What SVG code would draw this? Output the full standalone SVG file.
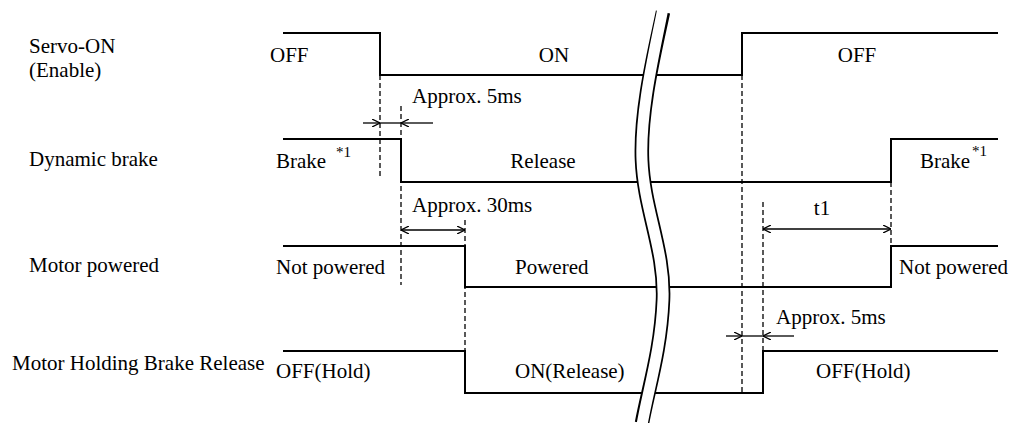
<svg xmlns="http://www.w3.org/2000/svg" width="1011" height="423" viewBox="0 0 1011 423">
<style>
text{font-family:"Liberation Serif","Times New Roman",serif;font-size:21px;fill:#000}
.sup{font-size:15px}
.sig{fill:none;stroke:#000;stroke-width:2}
.dash{fill:none;stroke:#000;stroke-width:1.3;stroke-dasharray:5,3}
.dim{fill:none;stroke:#000;stroke-width:1.3}
.mid{text-anchor:middle}
</style>
<defs>
<marker id="ah" viewBox="0 0 8 8" refX="8" refY="4" markerWidth="8" markerHeight="8" markerUnits="userSpaceOnUse" orient="auto-start-reverse">
<path d="M0,0 L8,4 L0,8" fill="none" stroke="#000" stroke-width="1.3"/>
</marker>
</defs>
<rect width="1011" height="423" fill="#fff"/>
<g id="servo-on">
<text x="29" y="53">Servo-ON</text>
<text x="29" y="77">(Enable)</text>
<path class="sig" d="M283,33 H380 V75 H742 V33 H998"/>
<text x="270" y="62">OFF</text>
<text class="mid" x="554" y="62">ON</text>
<text class="mid" x="857" y="62">OFF</text>
</g>
<g id="dynamic-brake">
<text x="29" y="166">Dynamic brake</text>
<path class="sig" d="M283,139 H401 V182 H891 V139 H998"/>
<text x="276" y="168">Brake</text>
<text class="sup" x="336" y="157">*1</text>
<text class="mid" x="543" y="168">Release</text>
<text x="920" y="168">Brake</text>
<text class="sup" x="972" y="156">*1</text>
</g>
<g id="motor-powered">
<text x="29" y="272">Motor powered</text>
<path class="sig" d="M283,246 H465 V287 H891 V246 H998"/>
<text x="276" y="274">Not powered</text>
<text x="515" y="274">Powered</text>
<text x="899" y="274">Not powered</text>
</g>
<g id="holding-brake">
<text x="12" y="370">Motor Holding Brake Release</text>
<path class="sig" d="M283,351 H465 V393 H763 V351 H998"/>
<text x="276" y="378">OFF(Hold)</text>
<text x="515" y="378">ON(Release)</text>
<text x="816" y="378">OFF(Hold)</text>
</g>
<g id="connectors">
<line class="dash" x1="380" y1="75" x2="380" y2="178"/>
<line class="dash" x1="401" y1="106" x2="401" y2="285"/>
<line class="dash" x1="465" y1="220" x2="465" y2="351"/>
<line class="dash" x1="742" y1="75" x2="742" y2="393"/>
<line class="dash" x1="763" y1="202" x2="763" y2="351"/>
<line class="dash" x1="891" y1="182" x2="891" y2="246"/>
<line class="dim" x1="363" y1="123" x2="380" y2="123" marker-end="url(#ah)"/>
<line class="dim" x1="380" y1="123" x2="401" y2="123"/>
<line class="dim" x1="433" y1="123" x2="401" y2="123" marker-end="url(#ah)"/>
<text x="412" y="103">Approx. 5ms</text>
<line class="dim" x1="401" y1="230" x2="465" y2="230" marker-start="url(#ah)" marker-end="url(#ah)"/>
<text x="412" y="212">Approx. 30ms</text>
<line class="dim" x1="763" y1="229" x2="891" y2="229" marker-start="url(#ah)" marker-end="url(#ah)"/>
<text class="mid" x="822" y="215">t1</text>
<line class="dim" x1="726" y1="336" x2="742" y2="336" marker-end="url(#ah)"/>
<line class="dim" x1="742" y1="336" x2="763" y2="336"/>
<line class="dim" x1="794" y1="336" x2="763" y2="336" marker-end="url(#ah)"/>
<text x="776" y="324">Approx. 5ms</text>
</g>
<g id="break">
<path d="M663,12 C655,50 640,110 642,160 C644,210 665,250 663,300 C661,350 648,390 642,423" fill="none" stroke="#000" stroke-width="14.5"/>
<path d="M663,8 C655,50 640,110 642,160 C644,210 665,250 663,300 C661,350 648,390 642,425" fill="none" stroke="#fff" stroke-width="11"/>
</g>
</svg>
